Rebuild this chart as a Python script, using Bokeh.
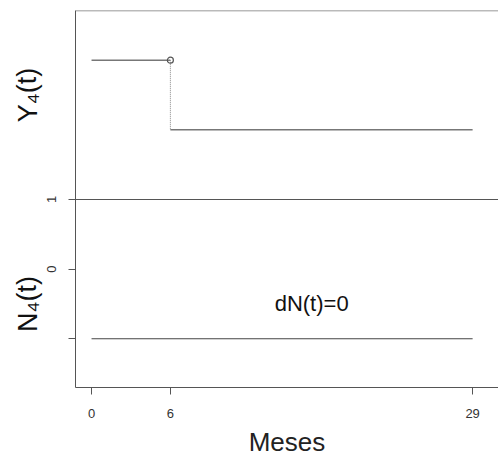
from bokeh.plotting import figure
from bokeh.models import Range1d, FixedTicker, Span
from bokeh.layouts import row
from bokeh.core.properties import value
from bokeh.embed import file_html
from bokeh.resources import INLINE

# data
times = [0, 6, 29]            # event / follow-up times (months)
y4_levels = [3, 2]             # Y4(t) step levels (top panel, shifted)
n4_level = -1                  # N4(t) level (bottom panel, shifted)
divider = 1                    # horizontal separator between panels
x_ticks = [0, 6, 29]
y_ticks = [1, 0, -1]
y_tick_labels = {1: "1", 0: "0", -1: ""}
panel_labels = ["Y\u2084(t)", "N\u2084(t)"]
panel_label_y = [2.5, -0.5]
note_text = ["dN(t)=0"]
note_x = [16.75]
note_y = [-0.5]

FONT = "Liberation Sans"
yr = Range1d(-1.7, 3.714)

# left strip for the panel labels
LW = 44
lp = figure(width=LW, height=459, output_backend="svg", toolbar_location=None,
            x_range=Range1d(0, LW), y_range=yr,
            min_border_left=0, min_border_right=0, min_border_top=10, min_border_bottom=70)
lp.outline_line_color = None
lp.axis.visible = False
lp.grid.visible = False
lp.text(x=[27, 27], y=panel_label_y, text=panel_labels, text_font=value(FONT),
        text_font_size="27px", text_align="center", text_baseline="middle",
        angle=1.5708, text_color="#111111")

p = figure(width=498 - LW, height=459, output_backend="svg", toolbar_location=None,
           x_range=Range1d(-1.22, 30.97), y_range=yr,
           min_border_left=75 - LW, min_border_right=0, min_border_top=10, min_border_bottom=70)
p.outline_line_color = None
p.grid.visible = False

# x axis
p.xaxis.ticker = FixedTicker(ticks=x_ticks)
p.xaxis.axis_label = "Meses"
p.xaxis.axis_label_text_font = FONT
p.xaxis.axis_label_text_font_size = "26px"
p.xaxis.axis_label_text_font_style = "normal"
p.xaxis.axis_label_text_color = "#222222"
p.xaxis.axis_label_standoff = 6
p.xaxis.major_label_text_font = FONT
p.xaxis.major_label_text_font_size = "13px"
p.xaxis.major_label_text_color = "#333333"
p.xaxis.major_label_standoff = 14
p.xaxis.major_tick_out = 7
p.xaxis.major_tick_in = 0
p.xaxis.minor_tick_line_color = None
p.xaxis.axis_line_color = "#555555"
p.xaxis.major_tick_line_color = "#555555"

# y axis
p.yaxis.ticker = FixedTicker(ticks=y_ticks)
p.yaxis.major_label_overrides = y_tick_labels
p.yaxis.major_label_orientation = "vertical"
p.yaxis.major_label_text_font = FONT
p.yaxis.major_label_text_font_size = "13px"
p.yaxis.major_label_text_color = "#333333"
p.yaxis.major_label_standoff = 12
p.yaxis.major_tick_out = 7
p.yaxis.major_tick_in = 0
p.yaxis.minor_tick_line_color = None
p.yaxis.axis_line_color = "#555555"
p.yaxis.major_tick_line_color = "#555555"

# top frame line and panel divider
p.add_layout(Span(location=3.714, dimension="width", line_color="#777777", line_width=1.5))
p.add_layout(Span(location=divider, dimension="width", line_color="#555555", line_width=1.2))

# Y4(t) step
p.line([times[0], times[1]], [y4_levels[0], y4_levels[0]], line_color="#777777", line_width=1.5)
p.line([times[1], times[1]], [y4_levels[0], y4_levels[1]], line_color="#888888",
       line_width=1, line_dash="1 1")
p.line([times[1], times[2]], [y4_levels[1], y4_levels[1]], line_color="#777777", line_width=1.5)
p.scatter([times[1]], [y4_levels[0]], marker="circle", size=6, fill_color=None,
          line_color="#555555", line_width=1.2)

# N4(t)
p.line([times[0], times[2]], [n4_level, n4_level], line_color="#444444", line_width=1.2)

# note
p.text(x=note_x, y=note_y, text=note_text, text_font=value(FONT), text_font_size="22px",
       text_align="center", text_baseline="middle", text_color="#111111")

layout = row(lp, p, spacing=0)
open("out.html", "w").write(file_html(layout, INLINE))
